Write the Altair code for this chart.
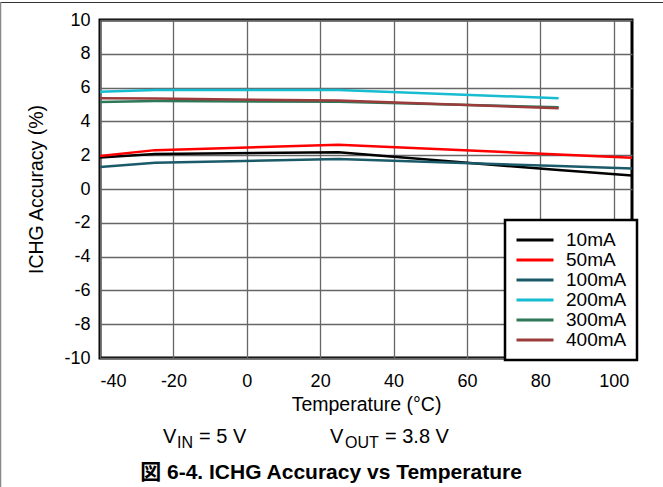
import altair as alt
import pandas as pd

FONT = "Liberation Sans"

# Charge-current accuracy readings (percent) against ambient temperature (°C)
temps_long = [-40, -25, 25, 85, 105]
temps_short = [-40, -25, 25, 85]
acc_10ma = [1.87, 2.07, 2.17, 1.12, 0.80]
acc_50ma = [1.95, 2.30, 2.62, 2.04, 1.85]
acc_100ma = [1.30, 1.55, 1.78, 1.36, 1.22]
acc_200ma = [5.76, 5.86, 5.86, 5.37]
acc_300ma = [5.15, 5.20, 5.17, 4.83]
acc_400ma = [5.37, 5.35, 5.23, 4.78]

series_names = ["10mA", "50mA", "100mA", "200mA", "300mA", "400mA"]
series_colors = ["#000000", "#ff0000", "#1b5a69", "#16bccf", "#2e7757", "#9c3b3b"]

x_ticks = [-40, -20, 0, 20, 40, 60, 80, 100]
y_ticks = [-10, -8, -6, -4, -2, 0, 2, 4, 6, 8, 10]

rows = []
for name, temps, vals in [
    ("10mA", temps_long, acc_10ma),
    ("50mA", temps_long, acc_50ma),
    ("100mA", temps_long, acc_100ma),
    ("200mA", temps_short, acc_200ma),
    ("300mA", temps_short, acc_300ma),
    ("400mA", temps_short, acc_400ma),
]:
    for t, v in zip(temps, vals):
        rows.append({"series": name, "temp": t, "acc": v, "k": series_names.index(name)})
df = pd.DataFrame(rows)

lines = alt.Chart(df).mark_line(strokeWidth=2.5, clip=True).encode(
    x=alt.X(
        "temp:Q",
        scale=alt.Scale(domain=[-40, 105], nice=False, zero=False),
        axis=alt.Axis(
            values=x_ticks, title="Temperature (°C)", labelExpr="'' + datum.value",
            grid=True, ticks=False, domain=False, labelPadding=14, titlePadding=5,
        ),
    ),
    y=alt.Y(
        "acc:Q",
        scale=alt.Scale(domain=[-10, 10], nice=False, zero=False),
        axis=alt.Axis(
            values=y_ticks, title="ICHG Accuracy (%)", labelExpr="'' + datum.value",
            grid=True, ticks=False, domain=False, labelPadding=10, titlePadding=17,
        ),
    ),
    color=alt.Color(
        "series:N",
        scale=alt.Scale(domain=series_names, range=series_colors),
        legend=alt.Legend(
            title=None, orient="none", legendX=405, legendY=200, direction="vertical",
            strokeColor="black", fillColor="white", padding=10,
            symbolType="stroke", symbolSize=1369, symbolStrokeWidth=3,
            clipHeight=20, rowPadding=0, labelFontSize=19, labelOffset=11,
            symbolOffset=0, labelFont=FONT, labelColor="black",
        ),
    ),
    order=alt.Order("k:Q"),
)

# Test-condition note with subscripted voltage names
def note(text, x, y, size):
    return alt.Chart(pd.DataFrame({"t": [text]})).mark_text(
        font=FONT, fontSize=size, align="left", baseline="alphabetic", color="black"
    ).encode(text="t:N", x=alt.value(x), y=alt.value(y))

notes = [
    note("V", 63, 423, 20),
    note("IN", 77, 428, 16),
    note("= 5 V", 99, 423, 20),
    note("V", 230, 423, 20),
    note("OUT", 245, 428, 16),
    note("= 3.8 V", 285, 423, 20),
]

caption = alt.Chart(pd.DataFrame({"t": ["図 6-4. ICHG Accuracy vs Temperature"]})).mark_text(
    font=FONT + ", Noto Sans CJK JP", fontSize=21, fontWeight="bold",
    align="center", baseline="alphabetic", color="black",
).encode(text="t:N", x=alt.value(231), y=alt.value(459))

# Thin page frame along the top and left edges
frame_top = alt.Chart(pd.DataFrame({"a": [0]})).mark_rule(color="#333333", strokeWidth=1).encode(
    x=alt.value(-100), x2=alt.value(563), y=alt.value(-17.5)
)
frame_left = alt.Chart(pd.DataFrame({"a": [0]})).mark_rule(color="#888888", strokeWidth=1.5).encode(
    x=alt.value(-99.5), y=alt.value(-18), y2=alt.value(467)
)

chart = alt.layer(lines, *notes, caption, frame_top, frame_left).properties(
    width=532,
    height=338,
    autosize=alt.AutoSizeParams(type="none"),
    padding={"left": 100, "top": 20, "right": 31, "bottom": 129},
).configure_view(
    stroke="black", strokeWidth=3
).configure_axis(
    labelFont=FONT, titleFont=FONT, labelFontSize=18, titleFontSize=19.5,
    labelColor="black", titleColor="black", titleFontWeight="normal",
    gridColor="#666666", gridWidth=1.3, gridOpacity=1,
    labelOverlap=False, labelBound=False,
).configure_legend(
    strokeWidth=2.5
)

chart.save("out.html", embed_options={"renderer": "svg", "actions": False})
